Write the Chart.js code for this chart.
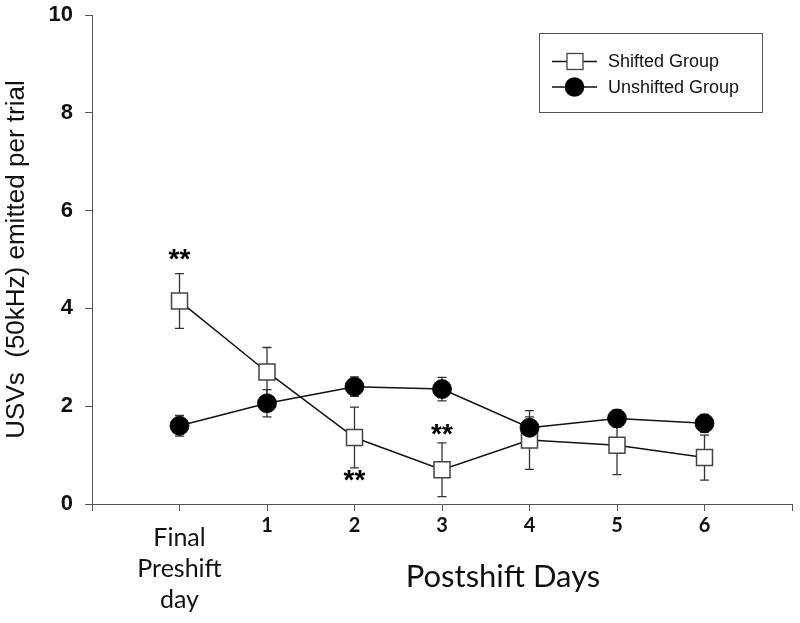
<!DOCTYPE html>
<html>
<head>
<meta charset="utf-8">
<script src="https://cdn.jsdelivr.net/npm/chart.js@4.4.1/dist/chart.umd.min.js"></script>
<style>html,body{margin:0;padding:0;background:#fff;}canvas{display:block;}</style>
</head>
<body>
<canvas id="c" width="800" height="623"></canvas>
<script>
// ---- data ----
const days = [0, 1, 2, 3, 4, 5, 6];
const xTickLabels = {1: '1', 2: '2', 3: '3', 4: '4', 5: '5', 6: '6'};
const preshiftLabel = ['Final', 'Preshift', 'day'];
const xTitle = 'Postshift Days';
const yTitle = 'USVs  (50kHz) emitted per trial';
const shiftedMean = [4.15, 2.7, 1.36, 0.7, 1.31, 1.2, 0.95];
const shiftedErr = [0.56, 0.5, 0.62, 0.55, 0.6, 0.6, 0.46];
const unshiftedMean = [1.6, 2.06, 2.4, 2.35, 1.56, 1.75, 1.65];
const unshiftedErr = [0.21, 0.28, 0.2, 0.24, 0.22, 0.18, 0.18];
const yTicks = [0, 2, 4, 6, 8, 10];
const sigMarks = [ {x: 0, y: 5.08, text: '**'}, {x: 2, y: 0.55, text: '**'}, {x: 3, y: 1.5, text: '**'} ];
const seriesNames = ['Shifted Group', 'Unshifted Group'];

const pts = (arr) => days.map((d, i) => ({x: d, y: arr[i]}));

const errorBars = {
  id: 'errorBars',
  beforeDatasetsDraw(chart) {
    const {ctx, scales: {x, y}} = chart;
    ctx.save();
    ctx.strokeStyle = '#333';
    ctx.lineWidth = 1.3;
    const sets = [[shiftedMean, shiftedErr], [unshiftedMean, unshiftedErr]];
    sets.forEach(([m, e]) => {
      days.forEach((d, i) => {
        const px = x.getPixelForValue(d);
        const top = y.getPixelForValue(m[i] + e[i]);
        const bot = y.getPixelForValue(m[i] - e[i]);
        ctx.beginPath();
        ctx.moveTo(px, top); ctx.lineTo(px, bot);
        ctx.moveTo(px - 4.5, top); ctx.lineTo(px + 4.5, top);
        ctx.moveTo(px - 4.5, bot); ctx.lineTo(px + 4.5, bot);
        ctx.stroke();
      });
    });
    ctx.restore();
  }
};

const extras = {
  id: 'extras',
  afterDraw(chart) {
    const {ctx, scales: {x, y}} = chart;
    ctx.save();
    ctx.fillStyle = '#000';
    ctx.font = 'bold 28px "Liberation Sans"';
    ctx.textAlign = 'center';
    ctx.textBaseline = 'alphabetic';
    sigMarks.forEach(s => {
      ctx.fillText(s.text, x.getPixelForValue(s.x), y.getPixelForValue(s.y) + 12);
    });
    ctx.font = '25px Lato';
    ctx.fillStyle = '#111';
    const px0 = x.getPixelForValue(0);
    preshiftLabel.forEach((t, i) => ctx.fillText(t, px0, 546 + i * 31));
    ctx.font = '31px Lato';
    ctx.fillText(xTitle, 503, 587);
    const lx = 539, ly = 33, lw = 223, lh = 79;
    ctx.strokeStyle = '#555';
    ctx.lineWidth = 1;
    ctx.strokeRect(lx + 0.5, ly + 0.5, lw, lh);
    const rows = [61.5, 87];
    ctx.font = '18px "Liberation Sans"';
    ctx.textAlign = 'left';
    ctx.textBaseline = 'middle';
    rows.forEach((ry, i) => {
      ctx.strokeStyle = '#111';
      ctx.lineWidth = 1.3;
      ctx.beginPath(); ctx.moveTo(552, ry); ctx.lineTo(597, ry); ctx.stroke();
      if (i === 0) {
        ctx.fillStyle = '#fff';
        ctx.fillRect(567, ry - 8, 16, 16);
        ctx.strokeStyle = '#444';
        ctx.strokeRect(567, ry - 8, 16, 16);
      } else {
        ctx.fillStyle = '#000';
        ctx.beginPath(); ctx.arc(574.5, ry, 9.8, 0, Math.PI * 2); ctx.fill();
      }
      ctx.fillStyle = '#111';
      ctx.fillText(seriesNames[i], 608, ry + 1);
    });
    ctx.restore();
  }
};

new Chart(document.getElementById('c'), {
  type: 'line',
  data: {
    datasets: [
      {
        label: seriesNames[1],
        data: pts(unshiftedMean),
        borderColor: '#111',
        borderWidth: 1.5,
        pointStyle: 'circle',
        pointRadius: 9.5,
        pointBackgroundColor: '#000',
        pointBorderColor: '#000',
        pointBorderWidth: 0.8,
        order: 0
      },
      {
        label: seriesNames[0],
        data: pts(shiftedMean),
        borderColor: '#111',
        borderWidth: 1.5,
        pointStyle: 'rect',
        pointRadius: 11.3,
        pointBackgroundColor: '#fff',
        pointBorderColor: '#444',
        pointBorderWidth: 1.5,
        order: 1
      }
    ]
  },
  options: {
    responsive: false,
    animation: false,
    layout: {autoPadding: false, padding: {top: 15, right: 8, left: 0, bottom: 0}},
    plugins: {legend: {display: false}, tooltip: {enabled: false}},
    scales: {
      x: {
        type: 'linear',
        min: -1, max: 7,
        afterFit(s) { s.height = 119; s.paddingLeft = 0; s.paddingRight = 0; },
        afterBuildTicks(s) { s.ticks = [-1,0,1,2,3,4,5,6,7].map(v => ({value: v})); },
        ticks: {
          autoSkip: false,
          maxRotation: 0,
          padding: 3,
          color: '#111',
          font: {family: 'Lato', weight: 'bold', size: 20},
          callback: (v) => xTickLabels[v] || ''
        },
        grid: {display: true, drawOnChartArea: false, drawTicks: true, tickLength: 7, color: '#555'},
        border: {display: true, color: '#555', width: 1}
      },
      y: {
        min: 0, max: 10,
        afterFit(s) { s.width = 92; s.paddingTop = 0; s.paddingBottom = 0; },
        afterBuildTicks(s) { s.ticks = yTicks.map(v => ({value: v})); },
        ticks: {
          padding: 12,
          color: '#111',
          font: {family: 'Liberation Sans', weight: 'bold', size: 22}
        },
        grid: {display: true, drawOnChartArea: false, drawTicks: true, tickLength: 7, color: '#555'},
        border: {display: true, color: '#555', width: 1},
        title: {display: true, text: yTitle, font: {family: 'Liberation Sans', size: 26}, color: '#111', padding: {top: 1, bottom: 0}}
      }
    }
  },
  plugins: [errorBars, extras]
});
</script>
</body>
</html>
